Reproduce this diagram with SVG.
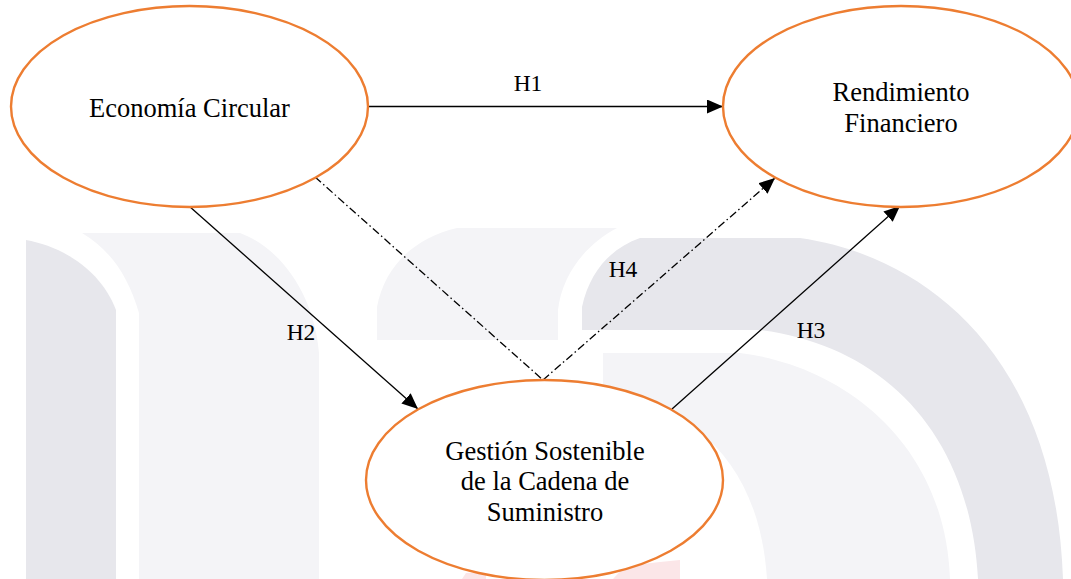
<svg xmlns="http://www.w3.org/2000/svg" width="1071" height="579" viewBox="0 0 1071 579">
  <style>
    .node { fill: #ffffff; stroke: #ed7d31; stroke-width: 2.4; }
    .label { font-family: 'Liberation Serif', 'DejaVu Serif', serif; font-size: 26.5px; fill: #000000; text-anchor: middle; }
    .hyp { font-family: 'Liberation Serif', 'DejaVu Serif', serif; font-size: 23.5px; fill: #000000; text-anchor: middle; }
    .link { fill: none; stroke: #000000; stroke-width: 1.3; }
    .dashdot { stroke-dasharray: 8 3 1.5 3; }
    .wm-dark { fill: #e7e7ec; }
    .wm-light { fill: #f4f4f7; }
    .wm-pink { fill: #fbe6e8; }
  </style>
  <defs>
    <marker id="arrow" viewBox="0 0 16 14" refX="16" refY="7" markerWidth="16" markerHeight="14" markerUnits="userSpaceOnUse" orient="auto">
      <path d="M0,0 L16,7 L0,14 Z" fill="#000000"/>
    </marker>
  </defs>

  <rect width="1071" height="579" fill="#ffffff"/>

  <!-- faint background emblem -->
  <g id="background-emblem">
    <path class="wm-dark" d="M26,240 C60,246 100,268 116,310 L116,579 L26,579 Z"/>
    <path class="wm-light" d="M82,233 L240,233 C285,250 315,300 319,353 L319,579 L139,579 L139,313 C128,275 110,250 82,233 Z"/>
    <path class="wm-light" d="M457,228 L617,228 C585,245 562,275 558,310 L558,340 L377,340 L377,307 C385,265 415,238 457,228 Z"/>
    <path class="wm-dark" d="M640,238 L800,238 C920,255 1055,350 1063,579 L978,579 C970,430 880,345 760,330 L582,330 L582,307 C590,270 612,248 640,238 Z"/>
    <path class="wm-light" d="M603,353 L740,353 C840,365 945,440 950,579 L767,579 C760,470 700,405 603,395 Z"/>
    <path class="wm-pink" d="M613,579 L625,566 L660,562 L680,560 L680,579 Z"/>
    <path class="wm-pink" d="M462,579 L466,573 L486,572 L486,579 Z"/>
  </g>

  <g id="connectors">
    <line class="link" x1="368" y1="106.5" x2="723" y2="106.5" marker-end="url(#arrow)"/>
    <line class="link" x1="189" y1="206" x2="418" y2="409" marker-end="url(#arrow)"/>
    <line class="link" x1="672" y1="409" x2="900" y2="206" marker-end="url(#arrow)"/>
    <line class="link dashdot" x1="315" y1="177" x2="543" y2="380"/>
    <line class="link dashdot" x1="543" y1="380" x2="775" y2="178" marker-end="url(#arrow)"/>
    <text class="hyp" x="528" y="91">H1</text>
    <text class="hyp" x="301" y="340">H2</text>
    <text class="hyp" x="811" y="338">H3</text>
    <text class="hyp" x="623" y="277">H4</text>
  </g>

  <g id="economia-circular">
    <ellipse class="node" cx="189.5" cy="106.5" rx="178.5" ry="100.5"/>
    <text class="label" x="189.5" y="117">Economía Circular</text>
  </g>

  <g id="rendimiento-financiero">
    <ellipse class="node" cx="901" cy="106.5" rx="178" ry="100.5"/>
    <text class="label" x="901" y="101">Rendimiento</text>
    <text class="label" x="901" y="132">Financiero</text>
  </g>

  <g id="gestion-sostenible">
    <ellipse class="node" cx="544.5" cy="480" rx="178.5" ry="100"/>
    <text class="label" x="545" y="460">Gestión Sostenible</text>
    <text class="label" x="545" y="490">de la Cadena de</text>
    <text class="label" x="545" y="521">Suministro</text>
  </g>
</svg>
